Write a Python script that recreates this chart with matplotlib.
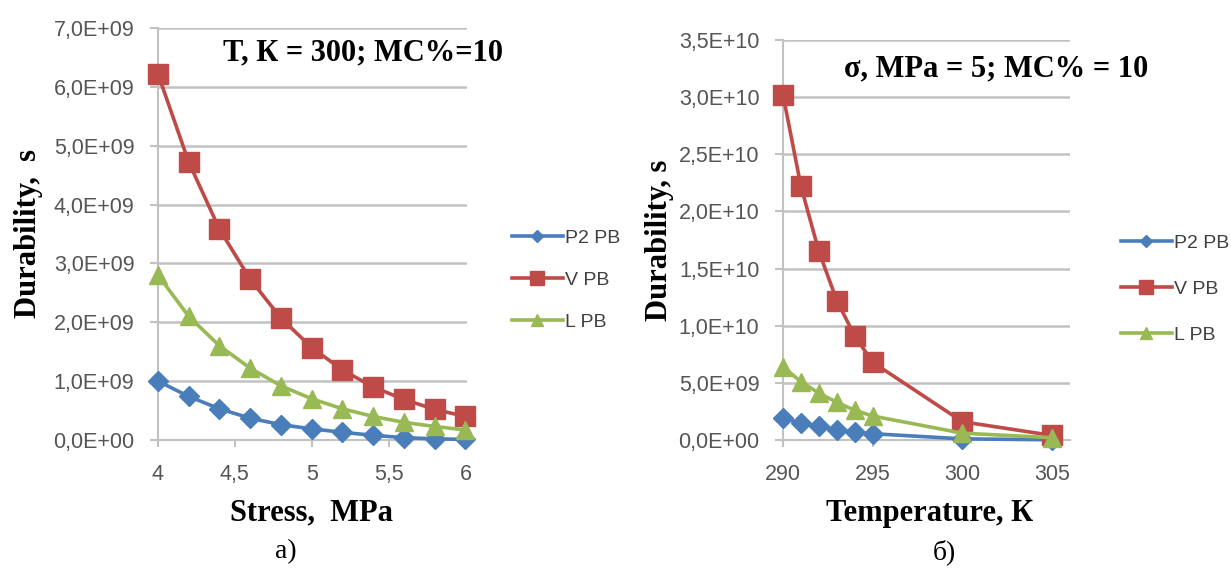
import matplotlib
matplotlib.use('Agg')
import matplotlib.pyplot as plt
from matplotlib.ticker import FuncFormatter

# panel a) - durability vs stress
stress = [4.0, 4.2, 4.4, 4.6, 4.8, 5.0, 5.2, 5.4, 5.6, 5.8, 6.0]
stress_p2 = [1.00e9, 0.74e9, 0.53e9, 0.37e9, 0.26e9, 0.19e9, 0.13e9, 0.08e9, 0.04e9, 0.02e9, 0.01e9]
stress_v = [6.22e9, 4.72e9, 3.58e9, 2.73e9, 2.07e9, 1.57e9, 1.19e9, 0.90e9, 0.69e9, 0.52e9, 0.40e9]
stress_l = [2.80e9, 2.10e9, 1.60e9, 1.22e9, 0.92e9, 0.70e9, 0.53e9, 0.40e9, 0.30e9, 0.23e9, 0.17e9]

# panel б) - durability vs temperature
temperature = [290, 291, 292, 293, 294, 295, 300, 305]
temp_p2 = [1.9e9, 1.5e9, 1.2e9, 0.9e9, 0.7e9, 0.55e9, 0.1e9, 0.02e9]
temp_v = [3.02e10, 2.22e10, 1.65e10, 1.22e10, 0.91e10, 0.68e10, 0.16e10, 0.04e10]
temp_l = [6.4e9, 5.1e9, 4.1e9, 3.3e9, 2.6e9, 2.1e9, 0.6e9, 0.2e9]

series_names = ['P2 PB', 'V PB', 'L PB']
colors = ['#4a7ebb', '#be4b48', '#98b954']
markers = ['D', 's', '^']
marker_sizes = [10, 15, 13]

grid_color = '#c2c2c2'
serif_bold = {'family': 'Liberation Serif', 'weight': 'bold', 'size': 22}
W, H = 1231, 568


def sci_comma(value, pos):
    mant, exp = ('%.1E' % value).split('E')
    return mant.replace('.', ',') + 'E' + exp[0] + exp[1:].zfill(2)


def comma_num(value, pos):
    if abs(value - round(value)) < 1e-9:
        return '%d' % round(value)
    return ('%.1f' % value).replace('.', ',')


def style_axes(ax):
    for side in ['top', 'right']:
        ax.spines[side].set_visible(False)
    for side in ['left', 'bottom']:
        ax.spines[side].set_color(grid_color)
        ax.spines[side].set_linewidth(1.5)
    ax.grid(axis='y', color=grid_color, linewidth=1.8)
    ax.set_axisbelow(True)
    ax.tick_params(axis='y', colors=grid_color, length=6, width=1.5, pad=11)
    ax.tick_params(axis='x', colors=grid_color, length=5, width=1.5, pad=12)
    for label in ax.get_xticklabels() + ax.get_yticklabels():
        label.set_fontfamily('Liberation Sans')
        label.set_fontsize(15.5)
        label.set_color('#555555')
    ax.yaxis.set_major_formatter(FuncFormatter(sci_comma))
    ax.xaxis.set_major_formatter(FuncFormatter(comma_num))


def draw_series(ax, x, ys):
    for y, name, c, m, ms in zip(ys, series_names, colors, markers, marker_sizes):
        ax.plot(x, y, color=c, marker=m, markersize=ms, linewidth=2.6,
                label=name, clip_on=False, zorder=3)


def add_legend(ax, x_px, y_px, spacing):
    ax.legend(loc='center left', bbox_to_anchor=(x_px / W, 1 - y_px / H),
              bbox_transform=fig.transFigure, frameon=False, borderpad=0,
              borderaxespad=0, prop={'family': 'Liberation Sans', 'size': 14},
              handlelength=2.6, handletextpad=0.15, labelspacing=spacing,
              markerscale=0.65, labelcolor='#404040')


fig = plt.figure(figsize=(W / 100, H / 100), dpi=100)

# panel a)
ax1 = fig.add_axes([158 / W, 1 - 440 / H, 309 / W, 412 / H])
draw_series(ax1, stress, [stress_p2, stress_v, stress_l])
ax1.set_xlim(4, 6.01)
ax1.set_ylim(0, 7e9)
ax1.set_xticks([4, 4.5, 5, 5.5, 6])
ax1.set_yticks([i * 1e9 for i in range(8)])
style_axes(ax1)
ax1.set_xlabel('Stress,  MPa', fontdict=serif_bold, va='center')
ax1.xaxis.set_label_coords(0.497, (440 - 513) / 412)
ax1.set_ylabel('Durability,  s', fontdict=serif_bold, va='center')
ax1.yaxis.set_label_coords((29 - 158) / 309, 0.5)
ax1.text(0.665, 0.939, 'T, К = 300; MC%=10', transform=ax1.transAxes,
         ha='center', va='center', fontdict=serif_bold)
add_legend(ax1, 512, 280, 1.25)

# panel б)
ax2 = fig.add_axes([783 / W, 1 - 440 / H, 287 / W, 400 / H])
draw_series(ax2, temperature, [temp_p2, temp_v, temp_l])
ax2.set_xlim(290, 306)
ax2.set_ylim(0, 3.5e10)
ax2.set_xticks([290, 295, 300, 305])
ax2.set_yticks([i * 5e9 for i in range(8)])
style_axes(ax2)
ax2.set_xlabel('Temperature, К', fontdict=serif_bold, va='center')
ax2.xaxis.set_label_coords((930 - 783) / 287, (440 - 513) / 400)
ax2.set_ylabel('Durability, s', fontdict=serif_bold, va='center')
ax2.yaxis.set_label_coords((660 - 783) / 287, 0.5)
ax2.text((996 - 783) / 287, 0.9275, 'σ, MPa = 5; MC% = 10', transform=ax2.transAxes,
         ha='center', va='center', fontdict=serif_bold)
add_legend(ax2, 1121, 289, 1.45)

fig.text(286 / W, 1 - 552 / H, 'а)', ha='center', va='center',
         family='Liberation Serif', size=20)
fig.text(944 / W, 1 - 552 / H, 'б)', ha='center', va='center',
         family='Liberation Serif', size=20)

fig.savefig('out.png', dpi=100)
